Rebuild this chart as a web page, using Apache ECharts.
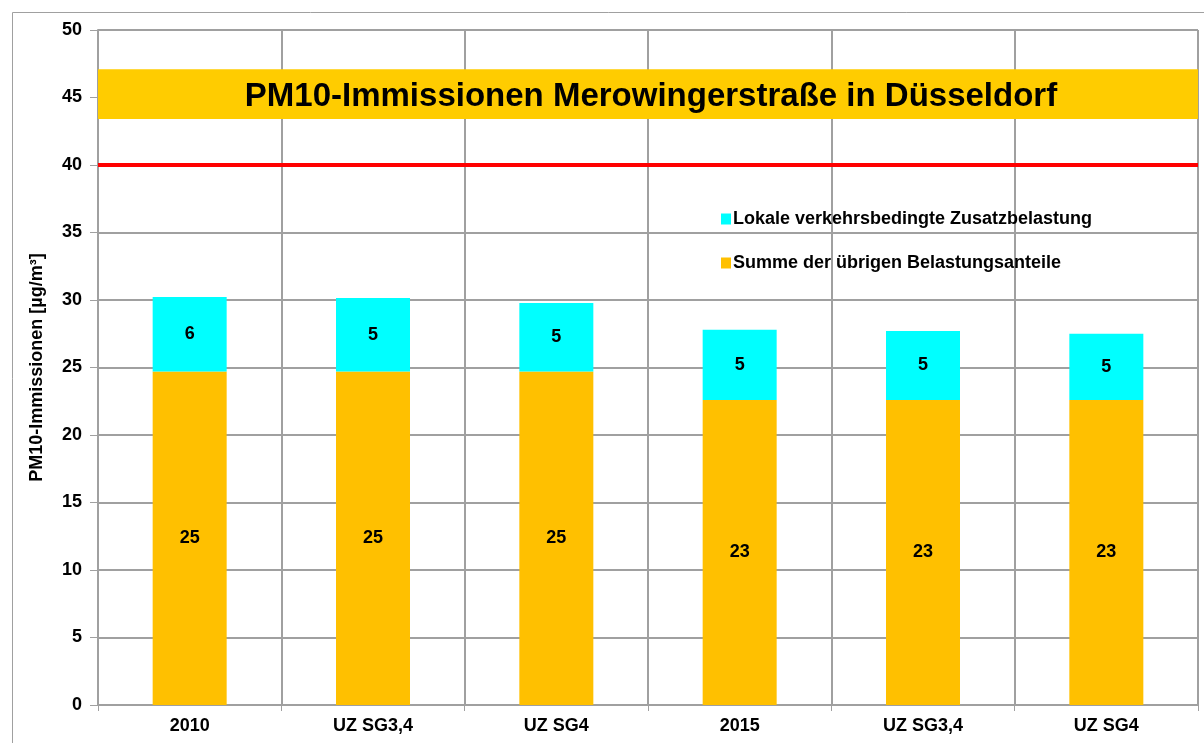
<!DOCTYPE html>
<html>
<head>
<meta charset="utf-8">
<script src="https://cdn.jsdelivr.net/npm/echarts@6/dist/echarts.min.js"></script>
<style>
  html, body { margin: 0; padding: 0; background: #fff; }
  #chart { width: 1204px; height: 743px; }
</style>
</head>
<body>
<div id="chart"></div>
<script>
// Scenario categories along the x axis
const categories = ['2010', 'UZ SG3,4', 'UZ SG4', '2015', 'UZ SG3,4', 'UZ SG4'];
// Background share (bottom of each stack), µg/m³
const background = [24.7, 24.7, 24.7, 22.6, 22.6, 22.6];
// Local traffic-related additional load (top of each stack), µg/m³
const traffic = [5.52, 5.45, 5.08, 5.19, 5.1, 4.9];
// Y axis ticks
const yMin = 0, yMax = 50, yStep = 5;
// Annual limit value
const limitValue = 40;
// Value range of the title band
const titleBand = [43.4, 47.1];

const seriesNames = ['Lokale verkehrsbedingte Zusatzbelastung', 'Summe der übrigen Belastungsanteile'];
const FONT = '"Liberation Sans", Arial, sans-serif';
const gridColor = '#a0a0a0';

const labelStyle = {
  show: true,
  position: 'inside',
  color: '#000',
  fontFamily: FONT,
  fontWeight: 'bold',
  fontSize: 18,
  formatter: p => String(Math.round(p.value))
};

const chart = echarts.init(document.getElementById('chart'), null, { renderer: 'canvas' });
chart.setOption({
  animation: false,
  backgroundColor: '#fff',
  title: {
    text: 'PM10-Immissionen Merowingerstraße in Düsseldorf',
    left: 646, top: 75, textAlign: 'center',
    textStyle: { fontFamily: FONT, fontWeight: 'bold', fontSize: 33, color: '#000' }
  },
  legend: {
    data: seriesNames,
    orient: 'vertical',
    left: 716, top: 205,
    itemWidth: 10, itemHeight: 11, itemGap: 26,
    icon: 'rect',
    textStyle: { fontFamily: FONT, fontWeight: 'bold', fontSize: 18, color: '#000', padding: [0, 0, 0, -3] }
  },
  graphic: [{
    type: 'rect', silent: true, z: -10,
    shape: { x: 12.5, y: 12.5, width: 1400, height: 900 },
    style: { fill: 'none', stroke: gridColor, lineWidth: 1 }
  }],
  grid: { left: 98, right: 6, top: 30, bottom: 38 },
  xAxis: {
    type: 'category',
    data: categories,
    axisLine: { lineStyle: { color: gridColor, width: 2 } },
    axisTick: { show: true, length: 6, lineStyle: { color: gridColor } },
    axisLabel: { color: '#000', fontFamily: FONT, fontWeight: 'bold', fontSize: 18, margin: 12 },
    splitLine: { show: true, lineStyle: { color: gridColor, width: 2 } }
  },
  yAxis: {
    type: 'value',
    min: yMin, max: yMax, interval: yStep,
    name: 'PM10-Immissionen [µg/m³]',
    nameLocation: 'middle', nameGap: 52, nameRotate: 90,
    nameTextStyle: { color: '#000', fontFamily: FONT, fontWeight: 'bold', fontSize: 18 },
    axisLine: { show: true, lineStyle: { color: gridColor, width: 2 } },
    axisTick: { show: true, length: 8, lineStyle: { color: gridColor } },
    axisLabel: { color: '#000', fontFamily: FONT, fontWeight: 'bold', fontSize: 18, margin: 16 },
    splitLine: { show: true, lineStyle: { color: gridColor, width: 2 } }
  },
  series: [
    {
      name: seriesNames[1],
      type: 'bar', stack: 'pm', barWidth: 74,
      data: background,
      itemStyle: { color: '#FFC000' },
      label: labelStyle,
      markArea: {
        silent: true,
        itemStyle: { color: '#FFCC00', opacity: 1 },
        data: [[{ yAxis: titleBand[0] }, { yAxis: titleBand[1] }]]
      },
      markLine: {
        silent: true, symbol: 'none',
        label: { show: false },
        lineStyle: { color: '#FF0000', width: 4, type: 'solid' },
        data: [{ yAxis: limitValue }]
      }
    },
    {
      name: seriesNames[0],
      type: 'bar', stack: 'pm', barWidth: 74,
      data: traffic,
      itemStyle: { color: '#00FFFF' },
      label: labelStyle
    }
  ]
});
</script>
</body>
</html>
